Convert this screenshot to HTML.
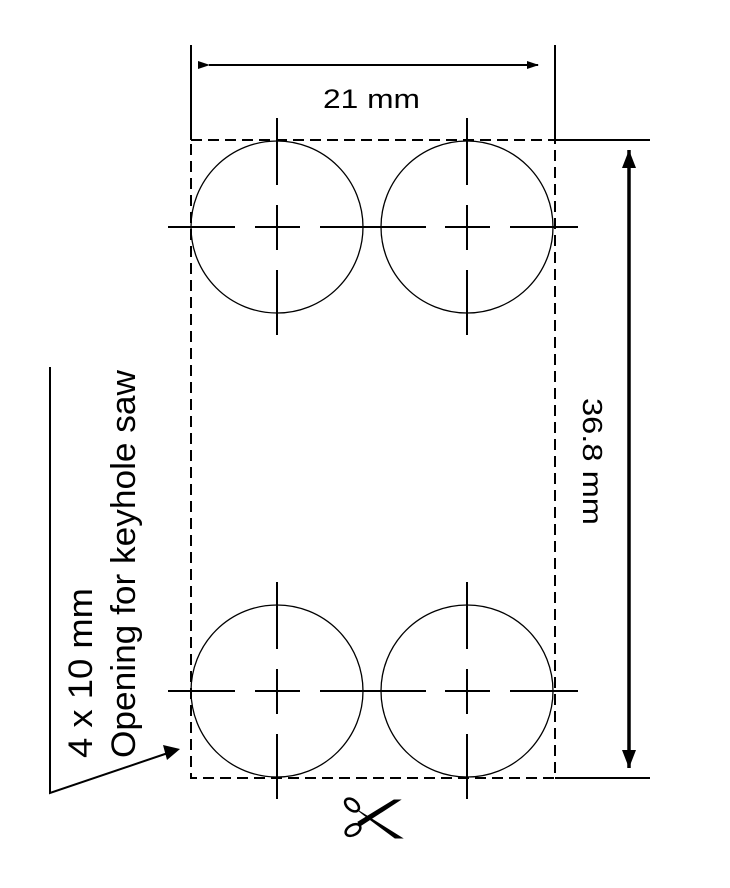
<!DOCTYPE html>
<html><head><style>html,body{margin:0;padding:0;background:#fff}svg{display:block}</style></head>
<body>
<svg width="730" height="888" viewBox="0 0 730 888" xmlns="http://www.w3.org/2000/svg">
<defs>
<marker id="ah" markerWidth="12" markerHeight="8" refX="11" refY="4" orient="auto" markerUnits="userSpaceOnUse">
<path d="M0,0 L12,4 L0,8 Z" fill="#000"/></marker>
</defs>
<g fill="none" stroke="#000">
<!-- dashed rect -->
<rect x="191" y="140" width="364" height="638" stroke-width="2" stroke-dasharray="11,6"/>
<!-- circles -->
<g stroke-width="1.3">
<circle cx="277" cy="227" r="86"/><circle cx="467" cy="227" r="86"/>
<circle cx="277" cy="691" r="86"/><circle cx="467" cy="691" r="86"/>
</g>
<!-- center lines -->
<g stroke-width="2">
<path d="M168,227H235M255,227H300M320,227H426M445,227H490M510,227H578"/>
<path d="M168,691H235M255,691H300M320,691H426M445,691H490M510,691H578"/>
<path d="M277,118V185M277,205V250M277,270V335M467,118V185M467,205V250M467,270V335"/>
<path d="M277,582V649M277,669V714M277,734V799M467,582V649M467,669V714M467,734V799"/>
<!-- extension lines -->
<path d="M191,45V140M555,45V140M555,140H650M555,778H650"/>
</g>
<line x1="209" y1="65" x2="538" y2="65" stroke-width="2" marker-start="url(#ah)" marker-end="url(#ah)"/>
<path d="M629,150V768" stroke-width="3.5"/>
<path d="M622,168 L629,150 L636,168Z M622,750 L629,768 L636,750Z" fill="#000" stroke="none"/>
<!-- leader -->
<path d="M50,367V793L168,753" stroke-width="2"/>
<path d="M163,745 L180,749 L167,760Z" fill="#000" stroke="none"/>
</g>
<g font-family="Liberation Sans, sans-serif" fill="#000">
<text x="323" y="108" font-size="27" textLength="97" lengthAdjust="spacingAndGlyphs">21 mm</text>
<text transform="translate(583,398) rotate(90)" font-size="28" textLength="127" lengthAdjust="spacingAndGlyphs">36.8 mm</text>
<text transform="translate(92,758) rotate(-90)" font-size="34" textLength="170" lengthAdjust="spacingAndGlyphs">4 x 10 mm</text>
<text transform="translate(135,758) rotate(-90)" font-size="34" textLength="388" lengthAdjust="spacingAndGlyphs">Opening for keyhole saw</text>
</g>
<!-- scissors -->
<g stroke="#000" fill="none">
<ellipse cx="352" cy="805" rx="8" ry="5" stroke-width="2.5" transform="rotate(40 352 805)"/>
<ellipse cx="353" cy="830" rx="8" ry="5" stroke-width="2.5" transform="rotate(-30 353 830)"/>
<path d="M359,811 L402,838 L395,838 L364,815Z" fill="#000" stroke-width="1"/>
<path d="M360,826 L400,800 L394,800 L358,822Z" fill="#000" stroke-width="1"/>
</g>
</svg>
</body></html>
